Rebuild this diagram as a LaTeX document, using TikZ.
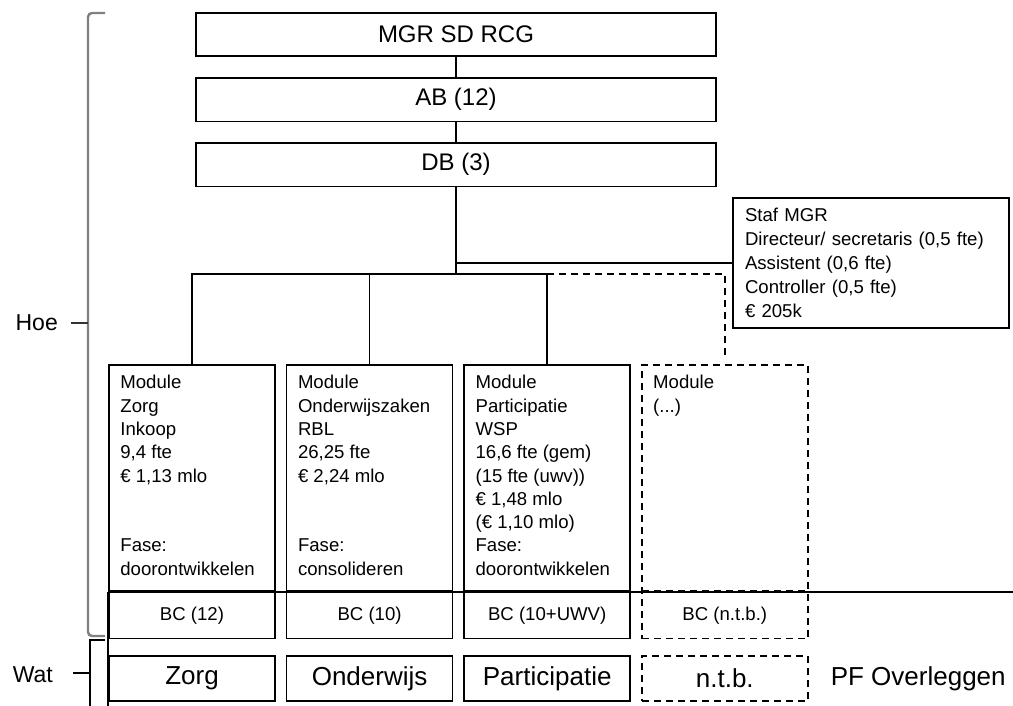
\documentclass[tikz,border=0pt]{standalone}
\usepackage{fontspec}
\setmainfont{Liberation Sans}
\usetikzlibrary{positioning}
\newcommand{\orgfont}{\fontsize{24}{28}\selectfont}
\newcommand{\modfont}{\fontsize{18.6}{23.3}\selectfont}
\newcommand{\watfont}{\fontsize{26}{30}\selectfont}
\tikzset{
  orgnode/.style={draw, line width=1.6pt, minimum width=520pt, minimum height=43.5pt, inner sep=0pt, font=\orgfont},
  module/.style={draw, line width=1.6pt, minimum width=166pt, minimum height=226pt, inner sep=0pt},
  dashbox/.style={dash pattern=on 7pt off 5pt},
  ghost/.style={module, dashbox},
  modtext/.style={anchor=north west, align=left, inner xsep=12pt, inner ysep=11pt, font=\modfont},
  bcnode/.style={draw, line width=1.6pt, minimum width=166pt, minimum height=46pt, inner sep=0pt, font=\modfont},
  watnode/.style={draw, line width=1.6pt, minimum width=166pt, minimum height=45pt, inner sep=0pt, font=\watfont},
  stafnode/.style={draw, line width=1.6pt, text width=252pt, minimum height=130pt, align=left, inner xsep=12pt, inner ysep=8pt, font=\fontsize{18.6}{24}\selectfont},
  orgline/.style={line width=1.6pt},
  ghostline/.style={orgline, dashbox},
  hoebrace/.style={line width=2.4pt, black!50},
  watbrace/.style={line width=1.4pt, black},
  side/.style={font=\fontsize{23}{27}\selectfont, inner sep=0pt}
}
\begin{document}
\begin{tikzpicture}[x=1pt, y=-1pt, node distance=10pt]
  \useasboundingbox (0,0) rectangle (1013,706);
  % bestuur
  \node[orgnode] (mgr) at (456,34.5) {MGR SD RCG};
  \node[orgnode, below=20pt of mgr] (ab) {AB (12)};
  \node[orgnode, below=20pt of ab] (db) {DB (3)};
  \node[stafnode] (staf) at (871,263) {Staf MGR\\Directeur/ secretaris (0,5 fte)\\Assistent (0,6 fte)\\Controller (0,5 fte)\\€ 205k};
  % modules
  \node[module, label={[modtext]north west:{Module\\Zorg\\Inkoop\\9,4 fte\\€ 1,13 mlo\\\mbox{}\\\mbox{}\\Fase:\\doorontwikkelen}}] (zorg) at (192,478) {};
  \node[module, right=of zorg, label={[modtext]north west:{Module\\Onderwijszaken\\RBL\\26,25 fte\\€ 2,24 mlo\\\mbox{}\\\mbox{}\\Fase:\\consolideren}}] (onderwijs) {};
  \node[module, right=of onderwijs, label={[modtext]north west:{Module\\Participatie\\WSP\\16,6 fte (gem)\\(15 fte (uwv))\\€ 1,48 mlo\\(€ 1,10 mlo)\\Fase:\\doorontwikkelen}}] (participatie) {};
  \node[ghost, right=of participatie, label={[modtext]north west:{Module\\(...)}}] (overig) {};
  % bestuurscommissies
  \node[bcnode, below=0pt of zorg] (bczorg) {BC (12)};
  \node[bcnode, below=0pt of onderwijs] (bconderwijs) {BC (10)};
  \node[bcnode, below=0pt of participatie] (bcparticipatie) {BC (10+UWV)};
  \node[bcnode, dashbox, below=0pt of overig] (bcoverig) {BC (n.t.b.)};
  % wat
  \node[watnode, below=16pt of bczorg] (wzorg) {Zorg};
  \node[watnode, below=16pt of bconderwijs] (wonderwijs) {Onderwijs};
  \node[watnode, below=16pt of bcparticipatie] (wparticipatie) {Participatie};
  \node[watnode, dashbox, below=16pt of bcoverig] (woverig) {n.t.b.};
  \node[font=\watfont, inner sep=0pt, right=22pt of woverig] (pf) {PF Overleggen};
  \node[side, anchor=east] (hoe) at (58,323) {Hoe};
  \node[side, anchor=east] (wat) at (53,675) {Wat};
  % lijnen
  \coordinate (bus) at (0,274);
  \coordinate (rim) at (1013,591);
  \coordinate (floor) at (0,706);
  \draw[orgline] (mgr) -- (ab);
  \draw[orgline] (ab) -- (db);
  \draw[orgline] (db.south) -- (db.south |- bus);
  \draw[orgline] (db.south |- staf.west) -- (staf.west);
  \draw[orgline] (zorg.north) -- (zorg.north |- bus) -- (participatie.north |- bus) -- (participatie.north);
  \draw[orgline] (onderwijs.north) -- (onderwijs.north |- bus);
  \draw[ghostline, shorten >=7pt] (participatie.north |- bus) -| (overig.north);
  \draw[orgline] (bczorg.north west) -- (rim |- bczorg.north);
  \draw[orgline] (bczorg.north west) -- (bczorg.north west |- floor);
  % accolades
  \draw[hoebrace, rounded corners=4pt] (105,13) -- (88,13) -- (88,636) -- (105,636);
  \draw[line width=2.4pt, black!80] (88,323) -- (71,323);
  \draw[watbrace] (105,640) -- (90,640) -- (90,706);
  \draw[watbrace] (90,673) -- (73,673);
\end{tikzpicture}
\end{document}
